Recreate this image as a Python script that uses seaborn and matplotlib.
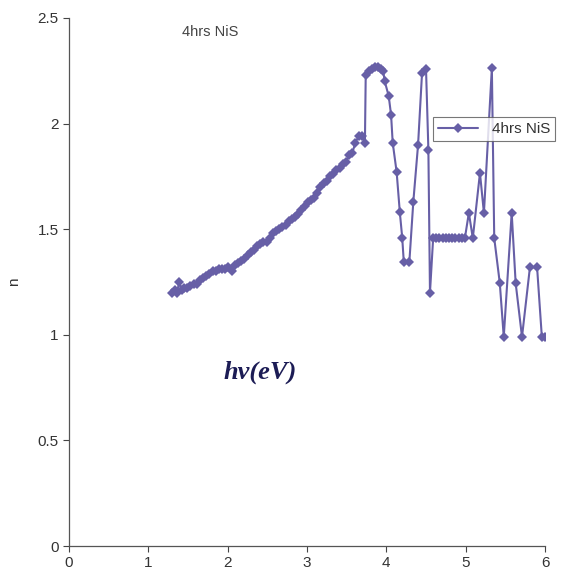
import matplotlib
matplotlib.use("Agg")
import matplotlib.pyplot as plt
import seaborn as sns
import pandas as pd

energy_ev = [
    1.30, 1.33, 1.36, 1.39, 1.42, 1.45, 1.49, 1.53, 1.57, 1.61, 1.65, 1.69, 1.73, 1.77,
    1.81, 1.85, 1.89, 1.93, 1.97, 2.01, 2.05, 2.09, 2.13, 2.17, 2.21, 2.25, 2.29, 2.33,
    2.37, 2.41, 2.45, 2.49, 2.53, 2.57, 2.61, 2.65, 2.69, 2.73, 2.77, 2.81, 2.85, 2.89,
    2.93, 2.97, 3.01, 3.05, 3.09, 3.13, 3.17, 3.21, 3.25, 3.29, 3.33, 3.37, 3.41, 3.45,
    3.49, 3.53, 3.57, 3.61, 3.65, 3.69, 3.73,
    3.74, 3.78, 3.82, 3.86, 3.90, 3.93, 3.96, 3.98, 4.03, 4.06, 4.08, 4.13, 4.17, 4.20,
    4.22, 4.29, 4.34, 4.40, 4.45, 4.50, 4.53, 4.55, 4.59,
    4.63, 4.67, 4.71, 4.75, 4.79, 4.83, 4.87, 4.91, 4.95, 4.99,
    5.04, 5.09, 5.18, 5.23, 5.33, 5.36, 5.43, 5.48, 5.58, 5.63, 5.71, 5.81, 5.90, 5.96, 6.00,
]
refractive_n = [
    1.20, 1.21, 1.20, 1.25, 1.21, 1.22, 1.22, 1.23, 1.24, 1.24, 1.26, 1.27, 1.28, 1.29,
    1.30, 1.30, 1.31, 1.31, 1.31, 1.32, 1.30, 1.33, 1.34, 1.35, 1.36, 1.38, 1.39, 1.40,
    1.42, 1.43, 1.44, 1.44, 1.46, 1.48, 1.49, 1.50, 1.51, 1.52, 1.54, 1.55, 1.56, 1.57,
    1.59, 1.61, 1.63, 1.64, 1.65, 1.67, 1.70, 1.72, 1.73, 1.75, 1.76, 1.78, 1.79, 1.81,
    1.82, 1.85, 1.86, 1.91, 1.94, 1.94, 1.91,
    2.23, 2.25, 2.26, 2.27, 2.27, 2.26, 2.25, 2.20, 2.13, 2.04, 1.91, 1.77, 1.58, 1.46,
    1.345, 1.345, 1.63, 1.90, 2.24, 2.26, 1.875, 1.20, 1.458,
    1.458, 1.458, 1.458, 1.458, 1.458, 1.458, 1.458, 1.458, 1.458, 1.458,
    1.577, 1.458, 1.766, 1.577, 2.263, 1.458, 1.245, 0.99, 1.577, 1.245, 0.99, 1.32, 1.32, 0.99, 0.99,
]
series_name = "4hrs NiS"
x_ticks = [0, 1, 2, 3, 4, 5, 6]
y_ticks = [0, 0.5, 1, 1.5, 2, 2.5]
y_tick_labels = ["0", "0.5", "1", "1.5", "2", "2.5"]

df = pd.DataFrame({"E": energy_ev, "n": refractive_n, "series": series_name})

sns.set_style("ticks")
plt.rcParams["font.family"] = ["Liberation Sans", "DejaVu Sans"]

fig = plt.figure(figsize=(5.61, 5.75), dpi=100)
ax = fig.add_axes([0.123, 0.0504, 0.8485, 0.9183])

color = "#675fa6"
sns.lineplot(data=df, x="E", y="n", sort=False, estimator=None, ax=ax,
             color=color, marker="D", markersize=5, markeredgewidth=0,
             linewidth=1.5, label=series_name)

ax.set_xlim(0, 6)
ax.set_ylim(0, 2.5)
ax.set_xticks(x_ticks)
ax.set_yticks(y_ticks)
ax.set_yticklabels(y_tick_labels)
ax.tick_params(axis="both", labelsize=11, colors="#444444", length=4, width=0.8, direction="out")
for lab in ax.get_xticklabels() + ax.get_yticklabels():
    lab.set_color("#333333")
for s in ["top", "right"]:
    ax.spines[s].set_visible(False)
for s in ["left", "bottom"]:
    ax.spines[s].set_color("#555555")
    ax.spines[s].set_linewidth(0.9)

ax.set_xlabel("")
ax.set_ylabel("n", fontsize=11, color="#333333", labelpad=12)

fig.text(210 / 561, 1 - 32 / 575, "4hrs NiS", fontsize=10.5, color="#444444",
         ha="center", va="center")
fig.text(260 / 561, 1 - 372 / 575, "hv(eV)", fontsize=19, color="#1c1c55",
         fontstyle="italic", fontweight="bold", family=["Liberation Serif", "DejaVu Serif"],
         ha="center", va="center")

leg = ax.legend(loc="center", bbox_to_anchor=(494 / 561, 1 - 129 / 575),
                bbox_transform=fig.transFigure, frameon=True, fancybox=False,
                fontsize=11, handlelength=2.6, borderpad=0.3, handletextpad=0.9)
leg.get_frame().set_edgecolor("#555555")
leg.get_frame().set_linewidth(0.8)
for t in leg.get_texts():
    t.set_color("#333333")

fig.savefig("out.png", dpi=100, facecolor="white")
